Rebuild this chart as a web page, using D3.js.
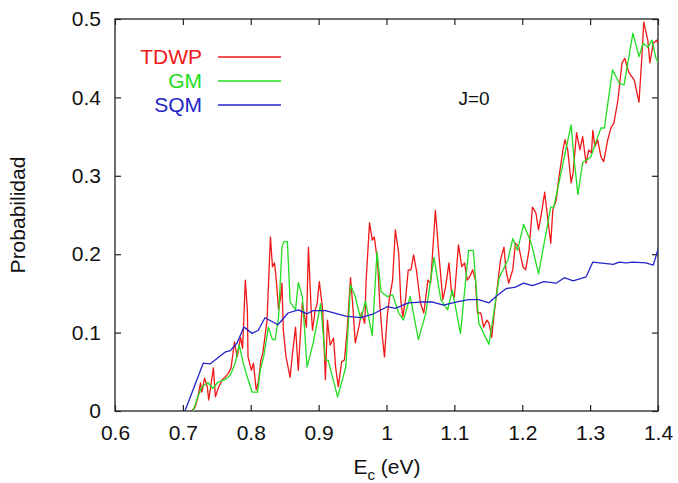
<!DOCTYPE html>
<html>
<head>
<meta charset="utf-8">
<script src="https://cdn.jsdelivr.net/npm/d3@7/dist/d3.min.js"></script>
<style>
  body { margin: 0; background: #fff; }
  text { font-family: "Liberation Sans", Arial, sans-serif; }
</style>
</head>
<body>
<svg id="chart" width="678" height="483"></svg>
<script>
// data: [E (eV), probability]
const tdwp = [
  [0.713,0],[0.718,0.005],[0.722,0.017],[0.726,0.036],[0.728,0.024],[0.732,0.042],[0.736,0.031],
  [0.738,0.014],[0.741,0.031],[0.745,0.055],[0.748,0.018],[0.752,0.029],[0.758,0.040],[0.762,0.043],
  [0.767,0.048],[0.771,0.055],[0.776,0.088],[0.780,0.069],[0.785,0.094],[0.788,0.080],[0.792,0.167],
  [0.795,0.129],[0.796,0.069],[0.801,0.052],[0.804,0.061],[0.808,0.027],[0.811,0.036],[0.815,0.065],
  [0.818,0.075],[0.824,0.116],[0.829,0.222],[0.832,0.184],[0.835,0.189],[0.838,0.163],[0.841,0.129],
  [0.844,0.145],[0.846,0.163],[0.848,0.103],[0.852,0.069],[0.858,0.043],[0.861,0.069],[0.866,0.107],
  [0.870,0.052],[0.876,0.138],[0.882,0.107],[0.885,0.209],[0.889,0.129],[0.891,0.103],[0.895,0.129],
  [0.898,0.138],[0.901,0.165],[0.906,0.129],[0.910,0.040],[0.913,0.116],[0.917,0.084],[0.922,0.093],
  [0.925,0.056],[0.929,0.031],[0.934,0.063],[0.938,0.065],[0.942,0.103],[0.947,0.170],[0.950,0.138],
  [0.954,0.087],[0.959,0.106],[0.963,0.125],[0.968,0.112],[0.970,0.167],[0.975,0.240],[0.979,0.218],
  [0.982,0.222],[0.987,0.189],[0.990,0.138],[0.994,0.094],[0.997,0.069],[1.001,0.120],[1.004,0.142],
  [1.009,0.167],[1.013,0.231],[1.018,0.201],[1.021,0.142],[1.024,0.120],[1.028,0.142],[1.032,0.180],
  [1.036,0.180],[1.040,0.199],[1.044,0.180],[1.050,0.138],[1.055,0.125],[1.061,0.167],[1.065,0.163],
  [1.072,0.256],[1.077,0.201],[1.083,0.142],[1.087,0.158],[1.092,0.189],[1.096,0.150],[1.100,0.145],
  [1.106,0.212],[1.111,0.184],[1.115,0.189],[1.119,0.167],[1.123,0.172],[1.127,0.180],[1.131,0.167],
  [1.134,0.125],[1.139,0.125],[1.143,0.107],[1.148,0.116],[1.151,0.112],[1.155,0.094],[1.158,0.120],
  [1.164,0.163],[1.168,0.193],[1.173,0.209],[1.176,0.180],[1.180,0.163],[1.186,0.180],[1.190,0.214],
  [1.195,0.209],[1.201,0.184],[1.205,0.180],[1.210,0.205],[1.215,0.260],[1.220,0.253],[1.224,0.231],
  [1.229,0.256],[1.233,0.279],[1.239,0.235],[1.242,0.214],[1.245,0.256],[1.250,0.269],[1.254,0.298],
  [1.260,0.333],[1.263,0.346],[1.267,0.333],[1.272,0.291],[1.275,0.304],[1.280,0.355],[1.285,0.333],
  [1.289,0.350],[1.294,0.316],[1.298,0.333],[1.302,0.329],[1.304,0.358],[1.307,0.337],[1.311,0.346],
  [1.316,0.324],[1.320,0.318],[1.326,0.346],[1.331,0.362],[1.335,0.367],[1.341,0.397],[1.347,0.444],
  [1.351,0.450],[1.357,0.432],[1.365,0.422],[1.372,0.394],[1.376,0.448],[1.379,0.496],[1.385,0.473],
  [1.388,0.444],[1.393,0.469],[1.398,0.473],[1.401,0.467]
];

const gm = [
  [0.715,0],[0.722,0.018],[0.728,0.031],[0.737,0.036],[0.744,0.029],[0.752,0.037],[0.762,0.040],
  [0.770,0.046],[0.777,0.061],[0.783,0.084],[0.789,0.061],[0.795,0.043],[0.802,0.024],[0.810,0.024],
  [0.814,0.052],[0.819,0.069],[0.826,0.107],[0.832,0.091],[0.836,0.091],[0.841,0.120],[0.846,0.209],
  [0.849,0.216],[0.854,0.216],[0.858,0.139],[0.866,0.129],[0.870,0.164],[0.876,0.146],[0.883,0.056],
  [0.892,0.087],[0.903,0.137],[0.910,0.065],[0.914,0.065],[0.928,0.018],[0.940,0.056],[0.947,0.161],
  [0.954,0.146],[0.962,0.117],[0.969,0.140],[0.979,0.096],[0.986,0.203],[0.992,0.152],[1.001,0.146],
  [1.009,0.148],[1.018,0.125],[1.025,0.116],[1.035,0.146],[1.047,0.091],[1.058,0.125],[1.070,0.196],
  [1.080,0.142],[1.090,0.129],[1.097,0.154],[1.109,0.099],[1.121,0.205],[1.128,0.205],[1.136,0.112],
  [1.151,0.085],[1.158,0.125],[1.166,0.170],[1.179,0.193],[1.186,0.220],[1.193,0.205],[1.202,0.238],
  [1.213,0.215],[1.224,0.175],[1.242,0.260],[1.246,0.259],[1.254,0.291],[1.262,0.324],[1.272,0.365],
  [1.276,0.324],[1.282,0.276],[1.289,0.317],[1.301,0.324],[1.308,0.342],[1.316,0.361],[1.321,0.361],
  [1.333,0.435],[1.343,0.418],[1.350,0.416],[1.363,0.482],[1.372,0.452],[1.378,0.469],[1.385,0.464],
  [1.391,0.473],[1.397,0.450],[1.403,0.439]
];

const sqm = [
  [0.703,0],[0.730,0.061],[0.740,0.060],[0.762,0.075],[0.770,0.077],[0.780,0.087],[0.790,0.107],
  [0.802,0.099],[0.811,0.103],[0.821,0.119],[0.840,0.110],[0.855,0.125],[0.870,0.129],[0.883,0.124],
  [0.892,0.128],[0.910,0.128],[0.940,0.121],[0.962,0.119],[0.981,0.124],[1.001,0.133],[1.013,0.131],
  [1.032,0.138],[1.050,0.139],[1.068,0.139],[1.084,0.135],[1.102,0.139],[1.121,0.142],[1.136,0.142],
  [1.151,0.138],[1.164,0.148],[1.176,0.156],[1.190,0.158],[1.202,0.163],[1.215,0.160],[1.232,0.165],
  [1.250,0.163],[1.262,0.170],[1.275,0.166],[1.294,0.171],[1.304,0.190],[1.334,0.187],[1.343,0.190],
  [1.353,0.189],[1.363,0.190],[1.382,0.189],[1.393,0.186],[1.401,0.209]
];

const xTicks = [0.6, 0.7, 0.8, 0.9, 1.0, 1.1, 1.2, 1.3, 1.4];
const yTicks = [0, 0.1, 0.2, 0.3, 0.4, 0.5];
const seriesNames = ['TDWP', 'GM', 'SQM'];
const seriesColors = ['#f01818', '#22dd22', '#2323c8'];

const svg = d3.select('#chart');
const mLeft = 115, mRight = 658, mTop = 19, mBottom = 411;

const x = d3.scaleLinear().domain([0.6, 1.4]).range([mLeft, mRight]);
const y = d3.scaleLinear().domain([0, 0.5]).range([mBottom, mTop]);

svg.append('defs').append('clipPath').attr('id', 'clip')
  .append('rect')
  .attr('x', mLeft).attr('y', mTop)
  .attr('width', mRight - mLeft).attr('height', mBottom - mTop);

// ticks point inward on all four sides
const tickLen = 6;
const fmt = d => d === 0 ? '0' : d === 1 ? '1' : String(d);

svg.append('g')
  .attr('transform', `translate(0,${mBottom})`)
  .call(d3.axisBottom(x).tickValues(xTicks).tickSize(-tickLen).tickPadding(14).tickFormat(fmt))
  .call(g => g.select('.domain').remove());

svg.append('g')
  .attr('transform', `translate(0,${mTop})`)
  .call(d3.axisTop(x).tickValues(xTicks).tickSize(-tickLen).tickFormat(''))
  .call(g => g.select('.domain').remove());

svg.append('g')
  .attr('transform', `translate(${mLeft},0)`)
  .call(d3.axisLeft(y).tickValues(yTicks).tickSize(-tickLen).tickPadding(14).tickFormat(fmt))
  .call(g => g.select('.domain').remove());

svg.append('g')
  .attr('transform', `translate(${mRight},0)`)
  .call(d3.axisRight(y).tickValues(yTicks).tickSize(-tickLen).tickFormat(''))
  .call(g => g.select('.domain').remove());

svg.selectAll('.tick line').attr('stroke', '#222').attr('stroke-width', 1.2);
svg.selectAll('.tick text')
  .attr('fill', '#111')
  .style('font-size', '21px');

svg.append('rect')
  .attr('x', mLeft).attr('y', mTop)
  .attr('width', mRight - mLeft).attr('height', mBottom - mTop)
  .attr('fill', 'none')
  .attr('stroke', '#222')
  .attr('stroke-width', 1.3);

// curves
const line = d3.line().x(d => x(d[0])).y(d => y(d[1]));
const plot = svg.append('g').attr('clip-path', 'url(#clip)');

[tdwp, gm, sqm].forEach((data, i) => {
  plot.append('path')
    .attr('d', line(data))
    .attr('fill', 'none')
    .attr('stroke', seriesColors[i])
    .attr('stroke-width', 1.3)
    .attr('stroke-linejoin', 'round');
});

// legend
const legendY = [57, 81, 105];
seriesNames.forEach((name, i) => {
  svg.append('text')
    .attr('x', 202).attr('y', legendY[i])
    .attr('dy', '0.35em')
    .attr('text-anchor', 'end')
    .attr('fill', seriesColors[i])
    .style('font-size', '21px')
    .text(name);
  svg.append('line')
    .attr('x1', 218).attr('x2', 281)
    .attr('y1', legendY[i]).attr('y2', legendY[i])
    .attr('stroke', seriesColors[i])
    .attr('stroke-width', 1.3);
});

svg.append('text')
  .attr('x', 474).attr('y', 98)
  .attr('dy', '0.35em')
  .attr('text-anchor', 'middle')
  .attr('fill', '#111')
  .style('font-size', '19px')
  .text('J=0');

// axis titles
svg.append('text')
  .attr('transform', 'translate(18,215) rotate(-90)')
  .attr('dy', '0.35em')
  .attr('text-anchor', 'middle')
  .attr('fill', '#111')
  .style('font-size', '21px')
  .text('Probabilidad');

const xt = svg.append('text')
  .attr('x', 387).attr('y', 474)
  .attr('text-anchor', 'middle')
  .attr('fill', '#111')
  .style('font-size', '21px');
xt.append('tspan').text('E');
xt.append('tspan').attr('dy', 6).style('font-size', '15px').text('c');
xt.append('tspan').attr('dy', -6).text(' (eV)');
</script>
</body>
</html>
